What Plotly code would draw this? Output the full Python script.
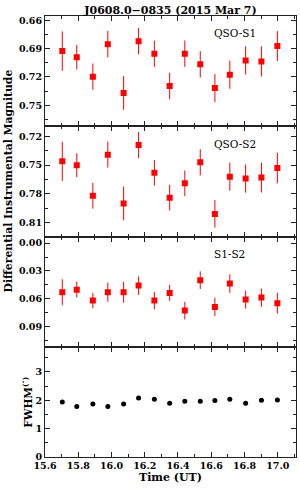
import plotly.graph_objects as go
from plotly.subplots import make_subplots

# ---- data ----
time_ut = [15.704, 15.791, 15.888, 15.978, 16.073, 16.163, 16.258, 16.350,
           16.441, 16.534, 16.622, 16.712, 16.807, 16.902, 16.998]

qso_s1 = [0.6925, 0.699, 0.7197, 0.6851, 0.737, 0.682, 0.6953, 0.7296,
          0.6953, 0.7066, 0.7318, 0.7176, 0.7024, 0.7035, 0.6872]
qso_s1_err = [0.021, 0.013, 0.014, 0.014, 0.018, 0.014, 0.014, 0.014,
              0.014, 0.014, 0.015, 0.015, 0.015, 0.016, 0.016]

qso_s2 = [0.746, 0.750, 0.782, 0.739, 0.790, 0.729, 0.758, 0.784,
          0.769, 0.747, 0.801, 0.762, 0.764, 0.763, 0.753]
qso_s2_err = [0.0205, 0.0125, 0.0135, 0.0135, 0.0177, 0.0137, 0.0134, 0.0134,
              0.0134, 0.0137, 0.0144, 0.0147, 0.0148, 0.0156, 0.016]

s1_s2 = [0.0529, 0.0501, 0.0619, 0.0529, 0.0529, 0.0457, 0.0619, 0.0536,
         0.0727, 0.0399, 0.0687, 0.0436, 0.0608, 0.0587, 0.0647]
s1_s2_err = [0.014, 0.0084, 0.0083, 0.0103, 0.0113, 0.0099, 0.0094, 0.0086,
             0.0095, 0.0095, 0.0099, 0.010, 0.0097, 0.0097, 0.0111]

fwhm = [1.94, 1.78, 1.87, 1.78, 1.87, 2.08, 2.04, 1.90,
        1.97, 1.97, 1.99, 2.04, 1.90, 2.00, 2.01]

panel_labels = ["QSO-S1", "QSO-S2", "S1-S2"]
title_text = "J0608.0\u22120835 (2015 Mar 7)"

# ---- figure ----
FONT = "DejaVu Serif"
AX = "#222222"
RED = "#ff0000"

fig = make_subplots(rows=4, cols=1, shared_xaxes=True, vertical_spacing=0)

for row, (vals, errs) in enumerate([(qso_s1, qso_s1_err), (qso_s2, qso_s2_err),
                                    (s1_s2, s1_s2_err)], start=1):
    fig.add_trace(go.Scatter(
        x=time_ut, y=vals, mode="markers",
        marker=dict(symbol="square", size=6, color=RED),
        error_y=dict(type="data", array=errs, visible=True,
                     color=RED, thickness=1, width=0),
        showlegend=False), row=row, col=1)

fig.add_trace(go.Scatter(
    x=time_ut, y=fwhm, mode="markers",
    marker=dict(symbol="circle", size=5, color="black"),
    showlegend=False), row=4, col=1)

tickfont = dict(family=FONT, size=9.5, color="black", weight="bold")

common = dict(showline=True, linecolor=AX, linewidth=1, mirror="ticks",
              ticks="inside", ticklen=5, tickcolor=AX, tickwidth=1,
              showgrid=False, zeroline=False, tickfont=tickfont,
              automargin=False)

for r in range(1, 5):
    fig.update_xaxes(range=[15.6, 17.11], dtick=0.2, tick0=15.6, tickformat=".1f",
                     minor=dict(ticks="inside", dtick=0.1, tick0=15.6, ticklen=3,
                                tickcolor=AX, showgrid=False),
                     **common, row=r, col=1)

y_ranges = [[0.7724, 0.6552], [0.8246, 0.7093], [0.1116, -0.0071]]
for r, rng in enumerate(y_ranges, start=1):
    fig.update_yaxes(range=rng, dtick=0.03, tick0=0, tickformat=".2f",
                     minor=dict(ticks="inside", dtick=0.015, tick0=0, ticklen=3,
                                tickcolor=AX, showgrid=False),
                     **common, row=r, col=1)

fig.update_yaxes(range=[0, 3.89], dtick=1, tick0=0, tickformat="d",
                 minor=dict(ticks="inside", dtick=0.5, tick0=0, ticklen=3,
                            tickcolor=AX, showgrid=False),
                 **common, row=4, col=1)

fig.update_xaxes(title=dict(text="Time (UT)", standoff=2,
                            font=dict(family=FONT, size=11, color="black", weight="bold")),
                 row=4, col=1)

annotations = []
for i, lab in enumerate(panel_labels):
    ax_id = "" if i == 0 else str(i + 1)
    annotations.append(dict(
        text=lab, xref=f"x{ax_id} domain", yref=f"y{ax_id} domain",
        x=0.665, y=0.842, xanchor="left", yanchor="middle", showarrow=False,
        font=dict(family=FONT, size=10.5, color="black")))

annotations.append(dict(
    text="Differential Instrumental Magnitude", xref="paper", yref="paper",
    x=-0.147, y=0.625, xanchor="center", yanchor="middle", textangle=-90,
    showarrow=False, font=dict(family=FONT, size=10.8, color="black", weight="bold")))

annotations.append(dict(
    text="FWHM<sup>(\u2033)</sup>", xref="paper", yref="paper",
    x=-0.068, y=0.125, xanchor="center", yanchor="middle", textangle=-90,
    showarrow=False, font=dict(family=FONT, size=10.5, color="black", weight="bold")))

fig.update_layout(
    width=300, height=491,
    margin=dict(l=45, r=4, t=16, b=34, autoexpand=False),
    paper_bgcolor="white", plot_bgcolor="white",
    title=dict(text=title_text, x=0.5, xref="paper", y=1 - 10.5 / 491,
               yref="container", xanchor="center", yanchor="middle",
               font=dict(family=FONT, size=11, color="black", weight="bold")),
    annotations=annotations,
)

fig.write_html("out.html",
               config={"displayModeBar": False},
               post_script="document.body.style.margin='0px';"
                           "document.body.style.overflow='hidden';")
